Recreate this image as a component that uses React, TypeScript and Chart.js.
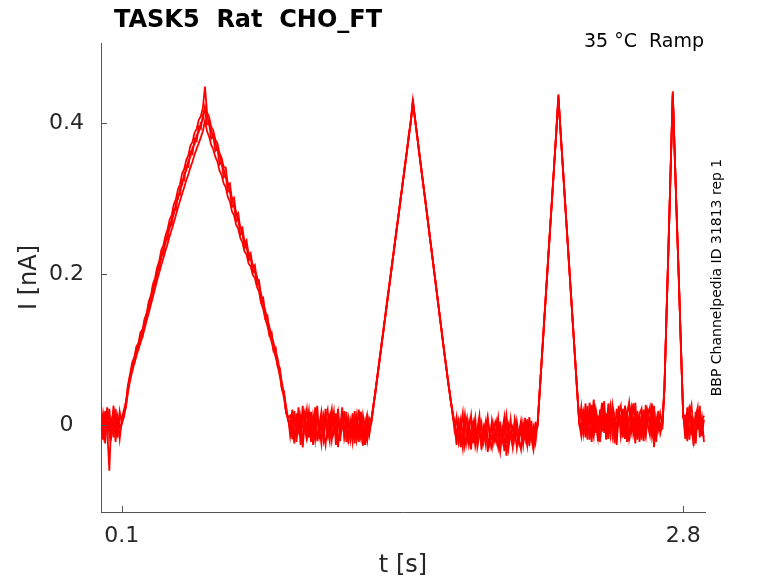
import React, { useEffect, useRef } from "react";
import { Chart, registerables } from "chart.js";

Chart.register(...registerables);

// Recording sampled every 10 ms, from t = 0 s to t = 2.90 s (291 samples)
const SAMPLE_STEP_S = 0.01;

const X_TICKS = [0.1, 2.8];
const X_TICK_LABELS = ["0.1", "2.8"];
const Y_TICKS = [0, 0.2, 0.4];
const Y_TICK_LABELS = ["0", "0.2", "0.4"];

const TITLE = "TASK5  Rat  CHO_FT";
const SUBTITLE = "35 °C  Ramp";
const SIDE_NOTE = "BBP Channelpedia ID 31813 rep 1";
const X_LABEL = "t [s]";
const Y_LABEL = "I [nA]";

// Currents in pA (one value per 10 ms sample), four repeated sweeps
const sweepA = [
  6, -13, 19, -5, -60, 10, -16, 22, -8, 13,
  10, 20, 31, 54, 68, 83, 90, 104, 109, 123,
  127, 141, 149, 164, 172, 187, 195, 209, 217, 232,
  238, 251, 259, 272, 278, 292, 299, 312, 319, 333,
  339, 351, 357, 370, 375, 387, 392, 404, 409, 420,
  448, 414, 408, 395, 390, 378, 373, 360, 354, 342,
  341, 318, 320, 298, 301, 278, 281, 260, 262, 241,
  245, 225, 228, 208, 212, 192, 192, 168, 169, 145,
  146, 123, 124, 101, 103, 79, 76, 49, 45, 17,
  10, 13, -10, 19, -22, 5, -14, 26, -3, -19,
  -8, 18, -26, 3, 14, -18, 8, -11, 22, -5,
  -21, 10, -6, 16, -29, 2, 13, -14, 6, -24,
  5, -13, 19, -19, -3, 11, -27, 0, 14, -10,
  7, 27, 44, 68, 88, 110, 128, 152, 173, 193,
  215, 233, 257, 277, 299, 317, 341, 361, 383, 401,
  432, 404, 386, 360, 342, 316, 299, 273, 255, 229,
  211, 185, 167, 141, 123, 97, 80, 55, 39, 16,
  2, -16, 10, -29, -6, 14, -22, -2, -32, 6,
  -19, -5, 13, -26, -10, 5, -35, -14, 3, -22,
  -8, 10, -27, -13, 2, -40, -16, 8, -21, -3,
  -30, -10, 6, -18, -5, -26, 11, -14, -2, -22,
  3, 46, 87, 133, 172, 219, 258, 305, 344, 391,
  436, 388, 349, 302, 263, 216, 177, 130, 91, 44,
  6, 19, -13, 29, -5, 14, -22, 24, 3, -16,
  21, -8, 32, -19, 10, 26, -14, 6, -26, 18,
  -3, 22, -18, 13, 30, -10, 5, -24, 19, -6,
  14, -21, 27, 0, -13, 18, -29, 10, -5, 16,
  2, 52, 146, 243, 341, 442, 352, 268, 185, 98,
  14, -10, 24, -19, 13, -27, 18, -6, 26, -14,
  8,
];

const sweepB = [
  -10, 16, -3, 24, -14, 5, 19, -22, 10, -2,
  3, 18, 24, 53, 59, 81, 81, 102, 100, 120,
  118, 140, 140, 162, 162, 185, 184, 206, 206, 227,
  226, 247, 246, 267, 265, 286, 285, 306, 305, 325,
  324, 344, 342, 362, 359, 379, 376, 395, 392, 411,
  418, 398, 400, 379, 383, 363, 366, 345, 348, 328,
  331, 309, 311, 289, 292, 270, 273, 252, 255, 234,
  238, 218, 222, 202, 206, 186, 187, 163, 164, 141,
  142, 119, 121, 98, 100, 77, 74, 47, 44, 16,
  12, -14, 6, -24, 16, -6, 11, -29, 3, 21,
  -16, 8, -11, 24, -21, 0, 18, -10, -26, 6,
  14, -19, 3, -8, 22, -14, -3, 19, -22, 5,
  -11, 16, -24, 8, -6, -18, 13, -5, -21, 3,
  3, 23, 47, 64, 89, 106, 131, 148, 173, 190,
  215, 232, 257, 274, 299, 316, 341, 358, 383, 400,
  426, 408, 382, 364, 338, 320, 295, 277, 251, 233,
  207, 189, 163, 145, 119, 101, 76, 59, 35, 20,
  4, -26, 5, -11, -30, 8, -18, -5, 13, -24,
  -2, -21, 10, -32, -8, 2, -16, -27, 6, -11,
  -22, 3, -14, -5, -34, 10, -19, -10, -29, 5,
  -13, -24, 2, -6, -19, 8, -27, -3, -16, 3,
  0, 44, 89, 129, 176, 215, 262, 301, 348, 387,
  430, 392, 345, 306, 259, 220, 173, 134, 87, 48,
  3, -14, 16, -6, 26, -19, 8, 34, -10, 13,
  -22, 6, 18, -11, 29, -3, 14, -24, 22, 2,
  11, -16, 26, 3, -21, 16, -8, 30, -13, 10,
  -19, 21, -5, 13, 24, -14, 6, -22, 19, -3,
  -4, 47, 150, 238, 345, 436, 357, 264, 189, 94,
  18, -18, 6, 21, -13, 10, -24, 16, 3, -10,
  -16,
];

const sweepC = [
  13, -19, 8, -5, 22, -11, 3, 14, -16, 18,
  2, 11, 25, 44, 60, 71, 82, 91, 101, 109,
  118, 128, 139, 149, 160, 170, 181, 192, 202, 212,
  221, 231, 240, 250, 259, 268, 278, 288, 297, 306,
  315, 324, 332, 341, 349, 358, 366, 373, 381, 389,
  403, 389, 382, 371, 365, 355, 349, 337, 331, 320,
  315, 302, 296, 283, 278, 265, 260, 248, 242, 230,
  226, 214, 210, 199, 195, 183, 177, 162, 154, 141,
  132, 120, 111, 100, 90, 79, 65, 50, 36, 19,
  6, 6, -18, 14, -11, 24, -5, -22, 10, -2,
  19, -13, 5, -19, 11, -3, -24, 14, 2, -14,
  8, 22, -11, -2, 16, -21, 6, -10, 18, -18,
  0, -22, 10, -14, 21, -8, -2, -26, 6, -13,
  6, 26, 46, 67, 85, 109, 127, 151, 169, 193,
  211, 235, 253, 277, 295, 319, 337, 361, 379, 403,
  424, 405, 384, 362, 341, 318, 298, 274, 254, 230,
  210, 186, 166, 142, 122, 98, 79, 56, 38, 17,
  -6, 11, -21, -3, 16, -27, -11, 5, -19, -6,
  10, -29, -13, 3, -22, -6, 11, -18, -30, -5,
  6, -16, -35, -8, 11, -24, 0, -14, -26, 8,
  -6, -19, -32, 3, -11, -2, -21, 6, -29, -10,
  4, 47, 86, 131, 173, 217, 260, 303, 345, 390,
  438, 389, 348, 303, 262, 217, 176, 131, 90, 46,
  9, -6, 22, -16, 11, 3, 27, -13, 18, -21,
  8, 30, -10, 16, -18, 21, 2, 13, -8, 26,
  -14, 6, 19, -22, 11, 24, -11, 5, -19, 14,
  22, -5, -16, 18, 3, -10, 26, -18, 11, 0,
  3, 50, 144, 246, 338, 440, 349, 271, 183, 101,
  10, 8, -21, 14, 27, -8, -18, 21, -3, 11,
  -22,
];

const sweepD = [
  -5, 10, -24, 16, 3, -13, 26, -6, 11, -18,
  6, 13, 31, 47, 66, 74, 89, 95, 108, 113,
  126, 133, 148, 155, 170, 177, 192, 199, 214, 220,
  234, 240, 254, 260, 273, 279, 293, 299, 313, 318,
  332, 337, 350, 355, 367, 372, 384, 388, 400, 404,
  422, 410, 398, 390, 381, 374, 364, 357, 346, 339,
  329, 320, 309, 300, 290, 281, 271, 263, 253, 245,
  236, 229, 220, 213, 204, 197, 185, 174, 162, 152,
  140, 130, 119, 109, 98, 88, 72, 57, 42, 26,
  8, -6, 21, -16, 0, 14, -26, 8, 18, -11,
  5, -22, 13, -3, 26, -14, 3, -19, 10, 21,
  -13, 2, 18, -26, 8, -5, 24, -16, 0, 11,
  -18, 6, -8, 13, -22, 18, -13, 5, -16, 10,
  4, 24, 43, 65, 86, 107, 130, 149, 170, 191,
  212, 236, 254, 275, 296, 320, 338, 359, 382, 404,
  430, 407, 385, 361, 339, 319, 296, 276, 252, 232,
  208, 188, 164, 144, 120, 100, 77, 58, 36, 19,
  1, -8, -22, 6, -14, -2, 10, -26, -13, 3,
  -27, -10, 5, -19, -3, -24, 8, -11, -18, 2,
  -14, -29, 5, -21, -6, 13, -30, -11, -2, -19,
  5, -16, -8, -26, 10, -21, -5, -18, -32, 2,
  1, 43, 90, 132, 175, 218, 261, 302, 347, 388,
  434, 391, 346, 305, 260, 219, 174, 133, 88, 47,
  2, 24, -11, 10, -19, 30, 5, -14, 21, 6,
  -5, 14, 24, -18, 5, -13, 27, 10, -21, 16,
  26, -10, 3, 18, -16, 6, 29, -5, 11, -22,
  8, 16, -13, 22, -6, 29, -21, 3, 14, -11,
  1, 49, 148, 241, 343, 438, 354, 266, 187, 96,
  12, 13, -14, 26, -6, -22, 11, 24, -16, 5,
  13,
];

const SWEEPS = [sweepA, sweepB, sweepC, sweepD];

const AXIS_COLOR = "#555555";
const TEXT_COLOR = "#262626";
const TRACE_COLOR = "#ff0000";
const FONT = "'DejaVu Sans', 'Liberation Sans', sans-serif";

const annotationPlugin = {
  id: "annotations",
  afterDatasetsDraw(chart: any) {
    const { ctx, chartArea, scales } = chart;
    const xs = scales.x;
    const ys = scales.y;
    ctx.save();
    ctx.strokeStyle = AXIS_COLOR;
    ctx.lineWidth = 1;
    ctx.beginPath();
    Y_TICKS.forEach((v) => {
      const py = Math.round(ys.getPixelForValue(v)) + 0.5;
      ctx.moveTo(chartArea.left, py);
      ctx.lineTo(chartArea.left + 6, py);
    });
    X_TICKS.forEach((v) => {
      const px = Math.round(xs.getPixelForValue(v)) + 0.5;
      ctx.moveTo(px, chartArea.bottom);
      ctx.lineTo(px, chartArea.bottom - 6);
    });
    ctx.stroke();
    ctx.restore();
  },
  afterDraw(chart: any) {
    const { ctx, chartArea } = chart;
    ctx.save();
    ctx.fillStyle = "#000000";
    ctx.font = `bold 24px ${FONT}`;
    ctx.textAlign = "left";
    ctx.textBaseline = "alphabetic";
    ctx.fillText(TITLE, 114, 27);
    ctx.font = `19px ${FONT}`;
    ctx.textAlign = "right";
    ctx.fillText(SUBTITLE, chartArea.right - 1, 47);
    ctx.fillStyle = TEXT_COLOR;
    ctx.font = `24px ${FONT}`;
    ctx.textAlign = "center";
    ctx.textBaseline = "middle";
    ctx.fillText(X_LABEL, (chartArea.left + chartArea.right) / 2, 566);
    ctx.save();
    ctx.translate(30, (chartArea.top + chartArea.bottom) / 2);
    ctx.rotate(-Math.PI / 2);
    ctx.fillText(Y_LABEL, 0, 0);
    ctx.restore();
    ctx.save();
    ctx.fillStyle = "#000000";
    ctx.font = `14px ${FONT}`;
    ctx.translate(717, (chartArea.top + chartArea.bottom) / 2);
    ctx.rotate(-Math.PI / 2);
    ctx.textAlign = "center";
    ctx.textBaseline = "middle";
    ctx.fillText(SIDE_NOTE, 0, 0);
    ctx.restore();
    ctx.restore();
  },
};

export default function App() {
  const canvasRef = useRef<HTMLCanvasElement | null>(null);

  useEffect(() => {
    if (!canvasRef.current) return;
    const datasets = SWEEPS.map((sweep, k) => ({
      label: `sweep ${k + 1}`,
      data: sweep.map((pA, i) => ({ x: i * SAMPLE_STEP_S, y: pA / 1000 })),
      borderColor: TRACE_COLOR,
      backgroundColor: TRACE_COLOR,
      borderWidth: 1.8,
      pointRadius: 0,
      tension: 0,
      fill: false,
    }));

    const chart = new Chart(canvasRef.current, {
      type: "line",
      data: { datasets },
      options: {
        animation: false,
        responsive: false,
        devicePixelRatio: 1,
        layout: { padding: { left: 0, top: 43, right: 73, bottom: 0 } },
        plugins: {
          legend: { display: false },
          tooltip: { enabled: false },
          title: { display: false },
        },
        scales: {
          x: {
            type: "linear",
            min: 0,
            max: 2.905,
            grid: { display: false, drawTicks: false },
            border: { display: true, color: AXIS_COLOR, width: 1 },
            afterBuildTicks: (scale: any) => {
              scale.ticks = X_TICKS.map((v) => ({ value: v }));
            },
            afterFit: (scale: any) => {
              scale.height = 71;
            },
            ticks: {
              padding: 11,
              maxRotation: 0,
              autoSkip: false,
              color: TEXT_COLOR,
              font: { family: FONT, size: 22 },
              callback: (v: any) => X_TICK_LABELS[X_TICKS.indexOf(Number(v))] ?? "",
            },
          },
          y: {
            type: "linear",
            min: -0.1146,
            max: 0.5058,
            grid: { display: false, drawTicks: false },
            border: { display: true, color: AXIS_COLOR, width: 1 },
            afterBuildTicks: (scale: any) => {
              scale.ticks = Y_TICKS.map((v) => ({ value: v }));
            },
            afterFit: (scale: any) => {
              scale.width = 101;
            },
            ticks: {
              padding: 17,
              crossAlign: "center",
              autoSkip: false,
              color: TEXT_COLOR,
              font: { family: FONT, size: 22 },
              callback: (v: any) => Y_TICK_LABELS[Y_TICKS.indexOf(Number(v))] ?? "",
            },
          },
        },
      },
      plugins: [annotationPlugin],
    } as any);

    return () => chart.destroy();
  }, []);

  return (
    <div style={{ position: "absolute", left: 0, top: 0, width: 778, height: 583, background: "#ffffff" }}>
      <canvas ref={canvasRef} width={778} height={583} style={{ width: 778, height: 583, display: "block" }} />
    </div>
  );
}
